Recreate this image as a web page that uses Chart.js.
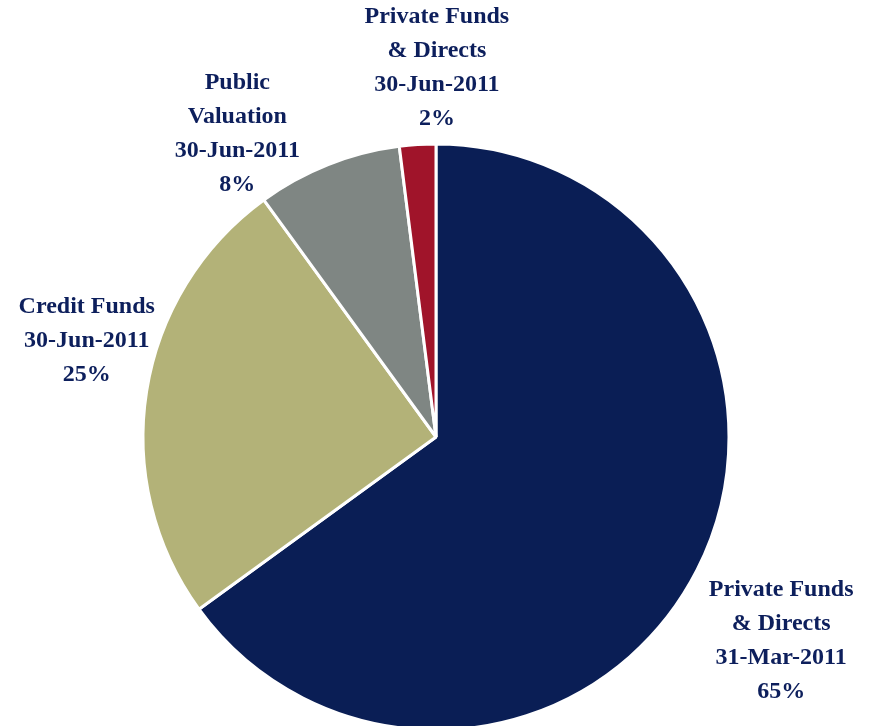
<!DOCTYPE html>
<html>
<head>
<meta charset="utf-8">
<script src="https://cdn.jsdelivr.net/npm/chart.js@4.4.1/dist/chart.umd.min.js"></script>
<style>
html,body{margin:0;padding:0;background:#fff;overflow:hidden;}
canvas{display:block;}
</style>
</head>
<body>
<canvas id="c" width="869" height="726"></canvas>
<script>
// Data
const categories = [
  ["Private Funds", "& Directs", "31-Mar-2011"],
  ["Credit Funds", "30-Jun-2011"],
  ["Public", "Valuation", "30-Jun-2011"],
  ["Private Funds", "& Directs", "30-Jun-2011"]
];
const values = [65, 25, 8, 2];
const percentLabels = ["65%", "25%", "8%", "2%"];

// Styles
const colors = ["#0a1e55", "#b3b278", "#7f8683", "#a0142a"];
const textColor = "#0d1f5c";
// Label centers relative to pie center, in units of the radius
const labelOffsets = [
  [1.178, 0.695],
  [-1.192, -0.329],
  [-0.678, -1.034],
  [0.003, -1.26]
];

const labelPlugin = {
  id: 'pieLabels',
  afterDraw(chart) {
    const meta = chart.getDatasetMeta(0);
    const ctx = chart.ctx;
    const arc0 = meta.data[0];
    const cx = arc0.x, cy = arc0.y, r = arc0.outerRadius;
    ctx.save();
    ctx.font = 'bold 24px "Liberation Serif", "Times New Roman", serif';
    ctx.fillStyle = textColor;
    ctx.textAlign = 'center';
    ctx.textBaseline = 'middle';
    const lh = 34;
    values.forEach((v, i) => {
      const lines = categories[i].concat([percentLabels[i]]);
      const bx = cx + labelOffsets[i][0] * r;
      const by = cy + labelOffsets[i][1] * r;
      const top = by - (lines.length - 1) * lh / 2;
      lines.forEach((t, j) => ctx.fillText(t, bx, top + j * lh));
    });
    ctx.restore();
  }
};

new Chart(document.getElementById('c'), {
  type: 'pie',
  data: {
    labels: categories.map(c => c.join(' ')),
    datasets: [{
      data: values,
      backgroundColor: colors,
      borderColor: '#ffffff',
      borderWidth: 3,
      radius: 293
    }]
  },
  options: {
    responsive: false,
    animation: false,
    layout: { padding: { left: 3, right: 0, top: 148, bottom: 0 } },
    plugins: { legend: { display: false }, tooltip: { enabled: false } }
  },
  plugins: [labelPlugin]
});
</script>
</body>
</html>
